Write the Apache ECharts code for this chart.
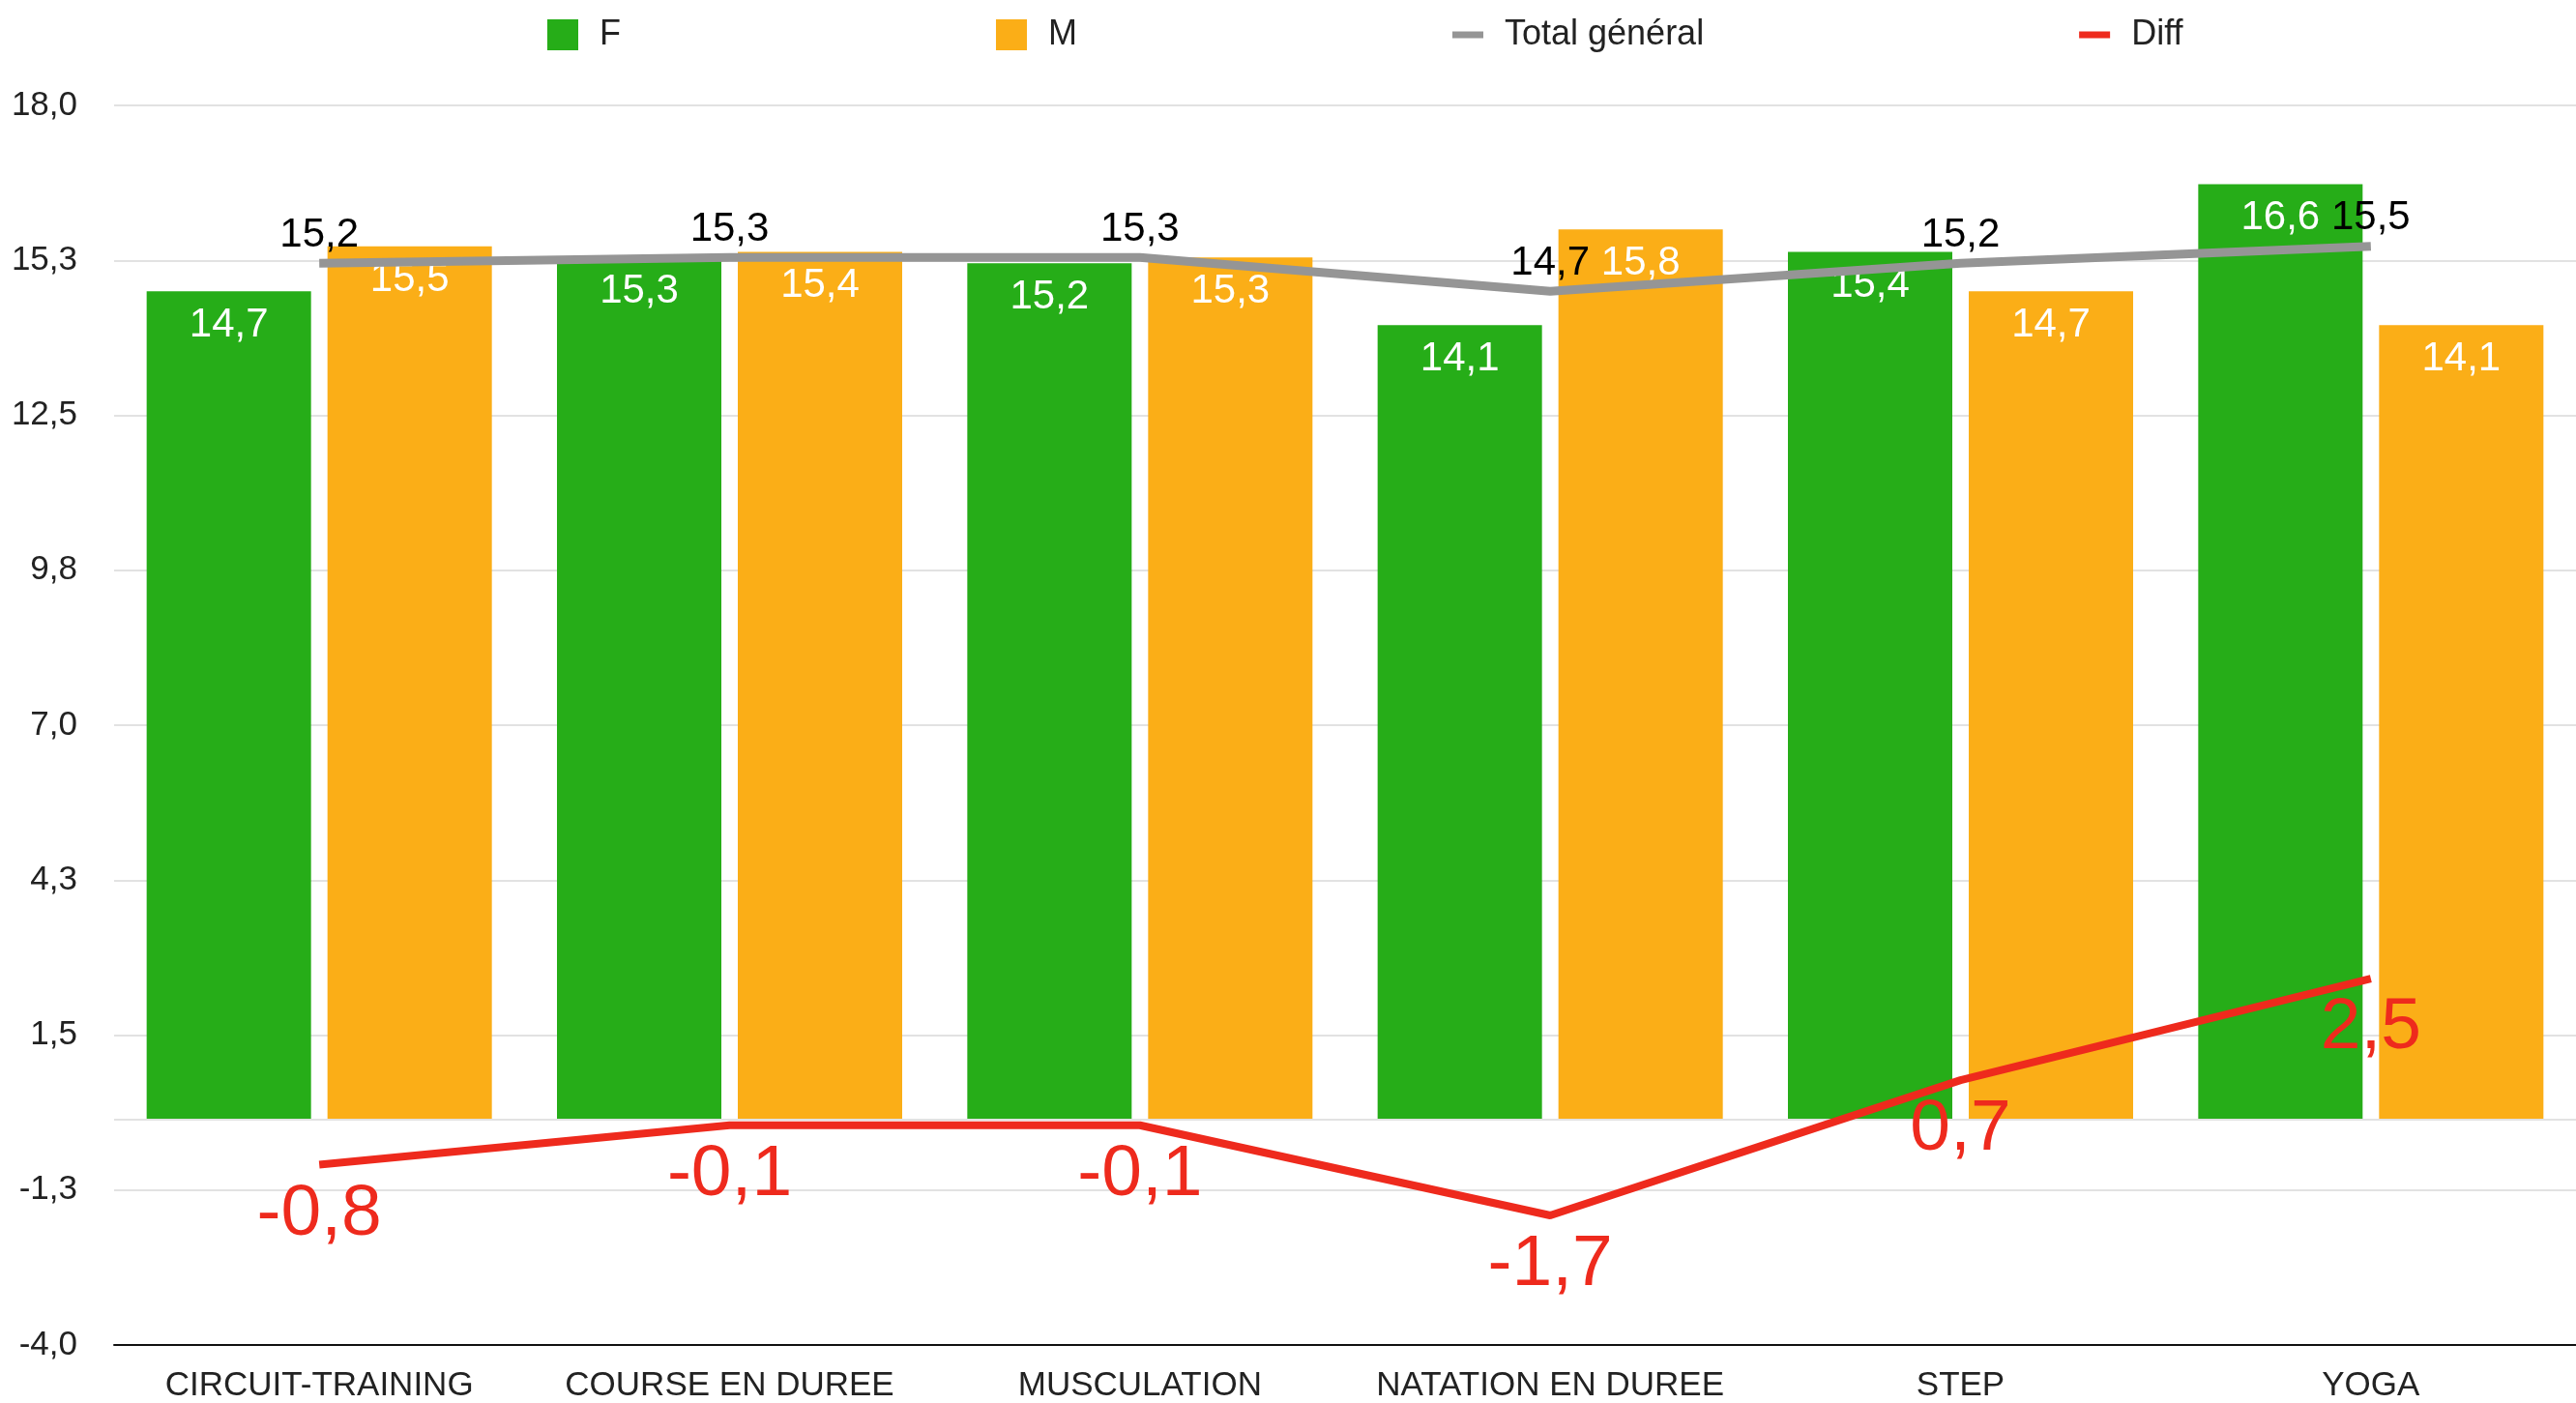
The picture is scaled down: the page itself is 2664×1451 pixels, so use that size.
<!DOCTYPE html>
<html>
<head>
<meta charset="utf-8">
<script src="https://cdn.jsdelivr.net/npm/echarts@6/dist/echarts.min.js"></script>
<style>
html,body{margin:0;padding:0;background:#fff;}
#c{width:2664px;height:1451px;}
</style>
</head>
<body>
<div id="c"></div>
<script>
const categories = ['CIRCUIT-TRAINING','COURSE EN DUREE','MUSCULATION','NATATION EN DUREE','STEP','YOGA'];
const valuesF = [14.7, 15.3, 15.2, 14.1, 15.4, 16.6];
const valuesM = [15.5, 15.4, 15.3, 15.8, 14.7, 14.1];
const valuesTotal = [15.2, 15.3, 15.3, 14.7, 15.2, 15.5];
const valuesDiff = [-0.8, -0.1, -0.1, -1.7, 0.7, 2.5];
const yTickLabels = ['-4,0','-1,3','1,5','4,3','7,0','9,8','12,5','15,3','18,0'];
const yMin = -4, yMax = 18, yStep = 2.75;

const FONT = '"Liberation Sans", Arial, Helvetica, sans-serif';
const fmt = p => Number(p.value).toFixed(1).replace('.', ',');

const chart = echarts.init(document.getElementById('c'), null, {renderer:'canvas'});
chart.setOption({
  backgroundColor: '#ffffff',
  textStyle: {fontFamily: FONT},
  animation: false,
  legend: [
    {data: [{name:'F', icon:'rect'}, {name:'M', icon:'rect'}], left: 561, top: 13,
     itemWidth: 32, itemHeight: 32, itemGap: 388,
     textStyle: {fontSize: 36, color: '#222', fontFamily: FONT, padding: [0,0,0,17]}},
    {data: [{name:'Total général', icon:'rect'}, {name:'Diff', icon:'rect'}], left: 1497, top: 13,
     itemWidth: 32, itemHeight: 7, itemGap: 388,
     textStyle: {fontSize: 36, color: '#222', fontFamily: FONT, padding: [0,0,0,17]}}
  ],
  grid: {left: 118, top: 109, bottom: 58, right: -6, containLabel: false},
  xAxis: {
    type: 'category', data: categories,
    axisLine: {onZero: false, lineStyle: {color: '#111', width: 2}},
    axisTick: {show: false},
    axisLabel: {fontSize: 35, color: '#222', margin: 25, interval: 0, fontFamily: FONT},
    splitLine: {show: false}
  },
  yAxis: [
    {type: 'value', min: yMin, max: yMax, show: false, position: 'left', splitLine:{show:false}},
    {type: 'value', min: 0, max: yMax - yMin, interval: yStep, position: 'left',
     axisLine: {show: false}, axisTick: {show: false},
     axisLabel: {fontSize: 35, color: '#222', margin: 38, fontFamily: FONT,
       formatter: v => yTickLabels[Math.round(v / yStep)]},
     splitLine: {lineStyle: {color: '#e2e2e2', width: 2}}}
  ],
  series: [
    {name: 'F', type: 'bar', yAxisIndex: 0, data: valuesF, barWidth: 170, barGap: '10%',
     itemStyle: {color: '#26ad18'},
     label: {show: true, position: 'insideTop', distance: 14, color: '#fff', fontSize: 42, formatter: fmt, fontFamily: FONT},
     markLine: {silent: true, symbol: 'none', label: {show: false},
       lineStyle: {color: '#e2e2e2', width: 2, type: 'solid'}, data: [{yAxis: 0}]}},
    {name: 'M', type: 'bar', yAxisIndex: 0, data: valuesM, barWidth: 170, barGap: '10%',
     itemStyle: {color: '#fbae17'},
     label: {show: true, position: 'insideTop', distance: 14, color: '#fff', fontSize: 42, formatter: fmt, fontFamily: FONT}},
    {name: 'Total général', type: 'line', yAxisIndex: 0, data: valuesTotal,
     symbol: 'circle', symbolSize: 0, showSymbol: true,
     lineStyle: {color: '#959595', width: 9}, itemStyle: {color: '#959595'}, z: 5,
     labelLayout: {hideOverlap: false},
     label: {show: true, position: 'top', distance: 8, color: '#000', fontSize: 42, formatter: fmt, fontFamily: FONT}},
    {name: 'Diff', type: 'line', yAxisIndex: 0, data: valuesDiff,
     symbol: 'circle', symbolSize: 0, showSymbol: true,
     lineStyle: {color: '#ee2a1d', width: 8}, itemStyle: {color: '#ee2a1d'}, z: 5,
     labelLayout: {hideOverlap: false},
     label: {show: true, position: 'bottom', distance: 14, color: '#ee2a1d', fontSize: 75, formatter: fmt, fontFamily: FONT}}
  ]
});
</script>
</body>
</html>
